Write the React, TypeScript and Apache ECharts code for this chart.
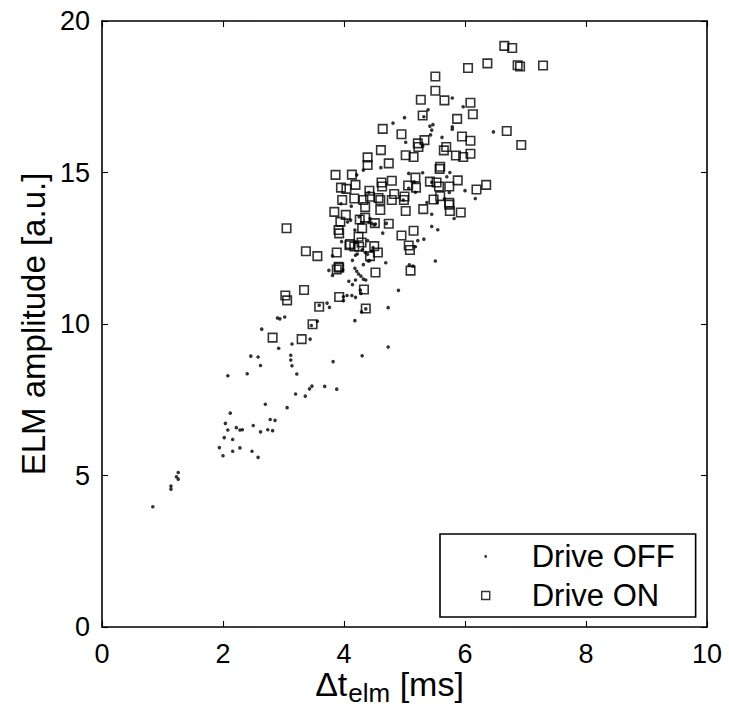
import React, { useEffect, useRef } from "react";
import * as echarts from "echarts";

const xTicks = { min: 0, max: 10, interval: 2 };
const yTicks = { min: 0, max: 20, interval: 5 };

const seriesNames = ["Drive OFF", "Drive ON"];

const driveOff: [number, number][] = [
  [0.84, 3.97], [1.14, 4.65], [1.14, 4.55], [1.23, 4.96], [1.26, 5.1], [1.26, 4.88], [1.94, 5.92], [2.0, 5.65],
  [2.02, 6.25], [2.04, 6.72], [2.08, 6.5], [2.12, 7.06], [2.16, 6.19], [2.16, 5.8], [2.22, 6.58], [2.28, 6.5],
  [2.32, 6.51], [2.28, 5.91], [2.48, 5.8], [2.5, 6.65], [2.58, 5.6], [2.62, 6.44], [2.7, 7.35], [2.74, 6.51],
  [2.78, 6.85], [2.82, 6.48], [2.86, 6.82], [3.06, 7.24],
  [2.08, 8.29], [2.4, 8.36], [2.46, 8.94], [2.58, 8.91], [2.62, 8.63], [2.64, 9.83], [2.9, 10.2], [2.94, 10.17],
  [3.02, 10.23], [2.92, 9.2], [3.12, 8.97], [3.12, 8.81], [3.14, 9.34], [3.14, 8.62], [3.22, 8.35], [3.2, 7.69],
  [3.36, 7.62], [3.43, 7.86], [3.47, 7.95], [3.44, 9.5], [3.46, 9.95], [3.56, 10.09], [3.59, 10.62], [3.68, 7.94],
  [3.72, 10.69], [3.76, 10.55], [3.82, 8.76], [3.88, 7.85], [3.75, 11.77], [3.81, 11.6], [3.81, 12.25], [3.98, 11.78],
  [3.99, 10.9], [3.99, 10.77], [4.05, 10.94], [4.08, 11.41], [4.13, 10.94], [4.14, 11.3], [4.19, 10.88], [4.18, 10.11],
  [4.14, 12.1], [4.18, 11.84], [4.21, 11.74], [4.24, 11.65], [4.28, 11.58], [4.32, 11.48], [4.36, 11.45], [4.32, 11.96],
  [4.19, 12.27], [4.27, 11.12], [4.28, 11.01], [4.29, 10.4], [4.3, 8.95], [4.36, 10.5], [4.4, 12.08], [4.69, 12.02],
  [4.73, 10.54], [4.73, 9.24], [4.9, 11.11],
  [5.51, 12.08], [5.08, 11.95],
  [5.45, 13.22], [5.55, 13.11], [5.32, 12.8], [5.22, 12.75], [5.18, 12.55], [4.64, 13.0], [4.7, 13.32], [4.06, 13.37],
  [3.96, 12.72], [4.22, 12.31], [4.35, 12.36], [4.39, 12.3], [4.19, 11.45], [4.29, 13.35], [4.41, 13.35], [4.46, 13.32],
  [4.52, 13.3],
  [4.81, 16.63], [5.42, 16.53], [5.47, 16.58], [5.45, 16.4], [5.43, 16.24], [5.62, 16.16], [5.79, 16.51], [5.79, 16.43],
  [5.02, 16.0], [5.3, 15.87], [4.32, 15.08], [4.61, 15.16], [4.21, 14.92], [5.07, 14.97], [5.3, 14.99], [5.16, 14.69],
  [5.07, 14.48], [5.75, 15.0], [5.7, 14.86], [6.0, 14.4], [6.17, 14.14], [5.74, 14.34], [5.37, 14.01], [5.54, 14.01],
  [5.66, 14.13], [5.45, 13.62], [5.82, 13.48], [4.41, 14.34], [4.12, 13.89], [4.11, 13.43], [3.95, 13.97], [4.18, 13.1],
  [4.5, 13.27], [4.43, 13.48], [4.25, 13.54], [4.19, 12.69], [4.39, 12.75], [4.48, 12.52], [4.46, 12.41], [4.3, 12.45],
  [4.42, 12.09], [5.14, 11.91],
  [5.79, 17.46], [5.97, 17.17], [5.39, 17.07], [5.32, 16.84], [5.0, 16.81], [6.47, 16.34],
  [5.45, 14.68], [5.18, 14.35], [4.98, 14.09],
];

const driveOn: [number, number][] = [
  [6.65, 19.18], [6.78, 19.11], [6.37, 18.6], [6.05, 18.45], [6.87, 18.54], [6.91, 18.5], [7.29, 18.53], [5.51, 18.17],
  [5.51, 17.7], [5.27, 17.4], [5.66, 17.38], [6.09, 17.3], [6.13, 16.92], [5.3, 16.88], [5.87, 16.77], [6.69, 16.37],
  [6.93, 15.91], [4.95, 16.26], [5.95, 16.19], [6.09, 16.05], [5.33, 16.07], [5.22, 15.96], [5.23, 15.84], [5.69, 15.84],
  [5.65, 15.73], [5.02, 15.57], [5.15, 15.51], [5.85, 15.56], [5.97, 15.51], [6.09, 15.62], [5.59, 15.19],
  [5.58, 15.12], [5.18, 14.83], [5.06, 14.57], [5.19, 14.5], [5.42, 14.7], [5.53, 14.67], [5.74, 14.54], [5.88, 14.74],
  [6.19, 14.44], [6.35, 14.59], [5.57, 14.54], [5.0, 14.21], [4.99, 14.09], [5.48, 14.11], [5.59, 14.22], [5.74, 14.0],
  [5.74, 13.94], [5.02, 13.73], [5.31, 13.79], [5.75, 13.73], [5.93, 13.68], [5.15, 13.08], [4.95, 12.92], [5.07, 12.59],
  [5.09, 12.44], [5.1, 11.76],
  [4.64, 16.44], [4.61, 15.74], [4.39, 15.5], [4.39, 15.25], [4.74, 15.3], [3.86, 14.92], [4.13, 14.93], [3.95, 14.5],
  [4.04, 14.46], [4.19, 14.59], [4.62, 14.67], [4.63, 14.54], [4.79, 14.73], [3.97, 14.09], [4.17, 14.14], [4.32, 14.09],
  [4.42, 14.4], [4.43, 14.2], [4.57, 14.16], [4.6, 14.09], [4.83, 14.29], [4.79, 14.09], [3.84, 13.7], [4.03, 13.6],
  [4.35, 13.86], [4.6, 13.76], [3.94, 13.37], [4.26, 13.45], [4.35, 13.51], [4.51, 13.33], [4.74, 13.31], [3.91, 13.1],
  [3.92, 12.99], [4.3, 13.16], [3.05, 13.16], [4.09, 12.6], [4.29, 12.69], [4.25, 12.55], [4.5, 12.57], [4.56, 12.36],
  [3.37, 12.4], [3.56, 12.24], [3.88, 12.36], [4.43, 12.24], [3.91, 11.89],
  [4.24, 12.88], [4.1, 12.64], [4.17, 12.56], [4.52, 11.7], [3.88, 11.8], [3.92, 11.86], [4.33, 11.14], [3.92, 10.89],
  [3.34, 11.12], [3.03, 10.94], [3.06, 10.78], [3.59, 10.57], [4.36, 10.51], [3.48, 9.99], [3.3, 9.5],
  [2.82, 9.55],
];

const FONT = "'Liberation Sans', Arial, Helvetica, sans-serif";

export default function App() {
  const ref = useRef<HTMLDivElement>(null);
  useEffect(() => {
    if (!ref.current) return;
    const chart = echarts.init(ref.current, undefined, { renderer: "svg" });
    const axisLine = { show: true, onZero: false, lineStyle: { color: "#000", width: 1.6 } };
    const tick = { show: true, inside: true, length: 6, lineStyle: { color: "#000", width: 1.1 } };
    const label = { color: "#000", fontSize: 27, fontFamily: FONT };
    chart.setOption({
      animation: false,
      backgroundColor: "#fff",
      grid: { left: 102, top: 21, right: 22, bottom: 82, show: false, containLabel: false, outerBoundsMode: "none" },
      xAxis: [
        {
          type: "value", ...xTicks, position: "bottom",
          axisLine, axisTick: tick, splitLine: { show: false },
          axisLabel: { ...label, margin: 14, lineHeight: 26 },
          name: "{m|Δt}{s|elm}{r| [ms]}",
          nameLocation: "middle",
          nameGap: 40,
          nameMoveOverlap: false,
          nameTextStyle: {
            rich: {
              m: { fontSize: 34, fontFamily: FONT, color: "#000", lineHeight: 34, verticalAlign: "top" },
              r: { fontSize: 34, fontFamily: FONT, color: "#000", lineHeight: 34, verticalAlign: "top", padding: [0, 30, 0, 0] },
              s: { fontSize: 26, fontFamily: FONT, color: "#000", lineHeight: 26, verticalAlign: "top", padding: [13, 0, 0, 1] },
            },
          },
        },
        {
          type: "value", ...xTicks, position: "top",
          axisLine, axisTick: tick, splitLine: { show: false }, axisLabel: { show: false },
        },
      ],
      yAxis: [
        {
          type: "value", ...yTicks, position: "left",
          axisLine, axisTick: tick, splitLine: { show: false },
          axisLabel: { ...label, margin: 12 },
          name: "ELM amplitude [a.u.]",
          nameLocation: "middle",
          nameGap: 52,
          nameMoveOverlap: false,
          nameTextStyle: { fontSize: 33, fontFamily: FONT, color: "#000" },
        },
        {
          type: "value", ...yTicks, position: "right",
          axisLine, axisTick: tick, splitLine: { show: false }, axisLabel: { show: false },
        },
      ],
      legend: {
        orient: "vertical",
        left: 440,
        top: 534,
        padding: [7, 21, 6, 33],
        itemWidth: 53,
        itemHeight: 24,
        itemGap: 8,
        backgroundColor: "#fff",
        borderColor: "#000",
        borderWidth: 1.6,
        borderRadius: 0,
        textStyle: { fontSize: 31, fontFamily: FONT, color: "#000", lineHeight: 30 },
        data: [
          {
            name: seriesNames[0],
            icon: "path://M0,0M53,24M10.6,12a1.4,1.4 0 1,0 2.8,0a1.4,1.4 0 1,0 -2.8,0z",
            itemStyle: { color: "#000", borderWidth: 0 },
          },
          {
            name: seriesNames[1],
            icon: "path://M0,0M53,24M8,8L16,8L16,16L8,16Z",
            itemStyle: { color: "rgba(0,0,0,0)", borderColor: "#000", borderWidth: 1.4 },
          },
        ],
      },
      series: [
        {
          type: "scatter", name: seriesNames[0], data: driveOff,
          xAxisIndex: 0, yAxisIndex: 0,
          symbol: "circle", symbolSize: 3.6,
          itemStyle: { color: "#000" },
        },
        {
          type: "scatter", name: seriesNames[1], data: driveOn,
          xAxisIndex: 0, yAxisIndex: 0,
          symbol: "rect", symbolSize: 8.5,
          itemStyle: { color: "rgba(0,0,0,0)", borderColor: "#000", borderWidth: 1.6 },
        },
      ],
    });
    return () => chart.dispose();
  }, []);
  return (
    <div
      ref={ref}
      style={{ position: "fixed", left: 0, top: 0, width: 729, height: 709, background: "#fff" }}
    />
  );
}
